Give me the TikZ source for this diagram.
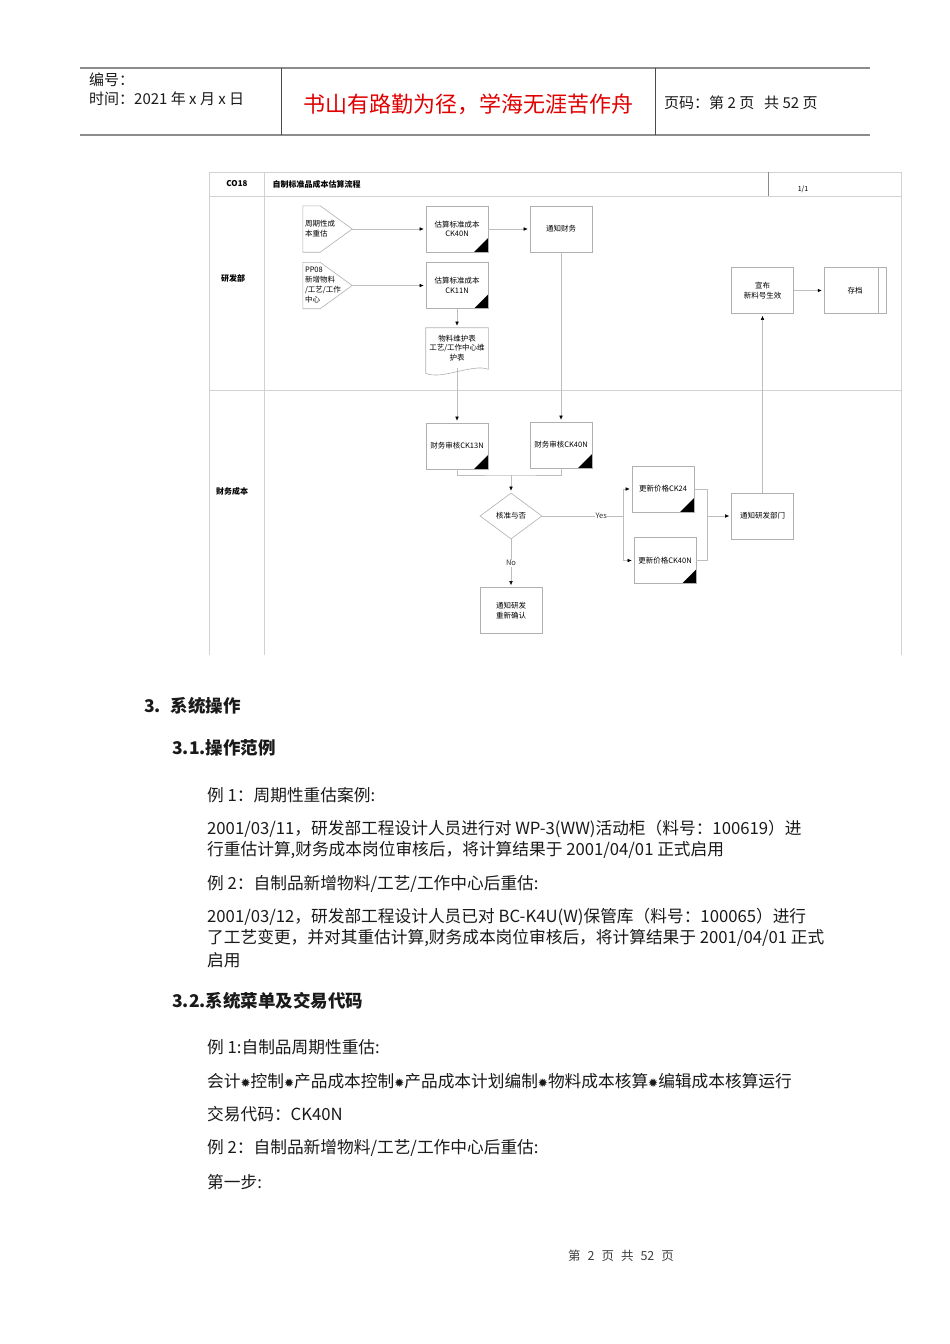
\documentclass[tikz,border=0pt]{standalone}
\usepackage{fontspec}
\setmainfont{Noto Sans CJK SC}
\newfontfamily\symfont{DejaVu Sans}
\usetikzlibrary{positioning,calc,shapes.geometric,arrows.meta}
\definecolor{FrameGray}{HTML}{D2D2D2}
\definecolor{BoxGray}{HTML}{B0B0B0}
\definecolor{LineGray}{HTML}{BDBDBD}
\definecolor{RuleGray}{HTML}{8C8C8C}
\definecolor{Motto}{HTML}{E10000}
\definecolor{TextDark}{HTML}{1A1A1A}
\newcommand{\sepmark}{{\symfont\fontsize{12}{12}\selectfont ✹}}

\begin{document}
\begin{tikzpicture}[
    x=1pt, y=-1pt,
    box/.style={rectangle, draw=BoxGray, fill=white, minimum width=62pt, minimum height=46pt, inner sep=1pt, align=center, font=\fontsize{7.5}{9.5}\selectfont, line width=0.6pt},
    flagbox/.style={box, path picture={\fill[black] (path picture bounding box.south east) -- ++(-14pt,0pt) -- ++(14pt,14pt) -- cycle;}},
    shelfbox/.style={box, path picture={\draw[BoxGray, line width=0.6pt] ([xshift=-8pt]path picture bounding box.north east) -- ([xshift=-8pt]path picture bounding box.south east);}},
    entry/.style={rectangle, minimum width=49pt, minimum height=46pt, text width=45pt, inner sep=2pt, align=left, font=\fontsize{7.5}{10}\selectfont},
    decision/.style={diamond, draw=BoxGray, fill=white, minimum width=62pt, minimum height=46pt, inner sep=0pt, aspect=1.35, font=\fontsize{7.5}{9}\selectfont, line width=0.6pt},
    link/.style={LineGray, line width=0.5pt},
    arrow/.style={link, -{Latex[length=4pt,width=3.5pt,color=black]}, shorten >=2pt},
    lbl/.style={fill=white, inner sep=0.5pt, text=black!80, font=\fontsize{7.5}{7.5}\selectfont},
    lane/.style={font=\fontsize{8}{8}\selectfont\bfseries},
    txt/.style={anchor=west, inner sep=0pt, font=\fontsize{16.7}{16.7}\selectfont, text=TextDark},
    head/.style={anchor=west, inner sep=0pt, font=\fontsize{17.5}{17.5}\selectfont\bfseries, text=TextDark}
  ]
    \fill[white] (0,0) rectangle (950,1344);

    % Page header
    \draw[RuleGray, line width=1.4pt] (80,68) -- (870,68);
    \draw[RuleGray, line width=1.4pt] (80,135) -- (870,135);
    \draw[black!70, line width=0.8pt] (281,68) -- (281,135);
    \draw[black!70, line width=0.8pt] (655,68) -- (655,135);
    \node (docno) [txt, font=\fontsize{15}{15}\selectfont] at (89,80) {编号：};
    \node (docdate) [txt, font=\fontsize{15}{15}\selectfont] at (89,99) {时间：2021 年 x 月 x 日};
    \node (motto) [inner sep=0pt, font=\fontsize{22}{22}\selectfont, text=Motto] at (468,104) {书山有路勤为径，学海无涯苦作舟};
    \node (pageno) [txt, font=\fontsize{15}{15}\selectfont] at (664,103) {页码：第 2 页\hspace{10pt}共 52 页};

    % Flowchart frame
    \draw[FrameGray, line width=0.7pt] (209,172) -- (901,172);
    \draw[FrameGray, line width=0.7pt] (209,196) -- (901,196);
    \draw[FrameGray, line width=0.7pt] (209,390) -- (901,390);
    \draw[FrameGray, line width=0.7pt] (209,172) -- (209,655);
    \draw[FrameGray, line width=0.7pt] (264,172) -- (264,655);
    \draw[FrameGray, line width=0.7pt] (901,172) -- (901,655);
    \draw[black!45, line width=0.7pt] (768,172) -- (768,196);
    \node (code) [lane] at (237,184) {CO18};
    \node (title) [lane, anchor=west] at (269,184) {自制标准品成本估算流程};
    \node (sheet) [font=\fontsize{7}{7}\selectfont] at (803,189) {1/1};
    \node (rdLane) [lane] at (233,278) {研发部};
    \node (finLane) [lane] at (232,491) {财务成本};

    % R&D lane
    \node (perRev) [entry] at (327.5,229) {周期性成\\本重估};
    \node (newMat) [entry] at (327.5,285.5) {PP08\\新增物料\\/工艺/工作\\中心};
    \foreach \n in {perRev,newMat}
      \draw[BoxGray, line width=0.6pt] (\n.north west) -- ([xshift=-32pt]\n.north east) -- (\n.east)
        -- ([xshift=-32pt]\n.south east) -- (\n.south west) -- cycle;
    \node (est40) [flagbox] at (457,229) {估算标准成本\\CK40N};
    \node (est11) [flagbox] at (457,285.5) {估算标准成本\\CK11N};
    \node (notifyFin) [box] at (561,229) {通知财务};
    \node (matDoc) [box, draw=none, fill=none, minimum height=40pt] at (457,348) {物料维护表\\工艺/工作中心维\\护表};
    \draw[BoxGray, line width=0.6pt] ([yshift=-5pt]matDoc.south west) -- (matDoc.north west) -- (matDoc.north east)
      -- ([yshift=-1pt]matDoc.south east) .. controls +(-16pt,6pt) and +(16pt,-7pt) .. ([yshift=-5pt]matDoc.south west);
    \node (announce) [box] at (762.5,290.5) {宣布\\新料号生效};
    \node (archive) [shelfbox, right=30pt of announce] {存档};

    % Finance lane
    \node (chk13) [flagbox] at (457,446) {财务审核CK13N};
    \node (chk40) [flagbox] at (561,445) {财务审核CK40N};
    \node (decide) [decision] at (511,516) {核准与否};
    \node (upd24) [flagbox] at (663,489) {更新价格CK24};
    \node (upd40) [flagbox] at (665,560.5) {更新价格CK40N};
    \node (notifyRD) [box] at (762.5,516) {通知研发部门};
    \node (recheck) [box] at (511,610.5) {通知研发\\重新确认};
    \coordinate (merge) at (511,475);
    \coordinate (yesJoin) at (623,516);
    \coordinate (rdJoin) at (707,516);

    % Connections
    \draw [arrow] (perRev.east) -- (est40.west);
    \draw [arrow] (est40.east) -- (notifyFin.west);
    \draw [arrow] (newMat.east) -- (est11.west);
    \draw [arrow] (est11.south) -- (matDoc.north);
    \draw [arrow] (matDoc.south) -- (chk13.north);
    \draw [arrow] (notifyFin.south) -- (chk40.north);
    \draw [link] (chk13.south) |- (merge) -| (chk40.south);
    \draw [arrow] (merge) -- (decide.north);
    \draw [link] (decide.east) -- node[lbl, pos=0.73] {Yes} (yesJoin);
    \draw [arrow] (yesJoin) |- (upd24.west);
    \draw [arrow] (yesJoin) |- (upd40.west);
    \draw [link] (upd24.east) -| (rdJoin);
    \draw [link] (upd40.east) -| (rdJoin);
    \draw [arrow] (rdJoin) -- (notifyRD.west);
    \draw [arrow] (notifyRD.north) -- (announce.south);
    \draw [arrow] (announce.east) -- (archive.west);
    \draw [arrow] (decide.south) -- node[lbl] {No} (recheck.north);

    % Section 3
    \node (sec3) [head] at (144,706) {3.\hspace{10pt}系统操作};
    \node (sec31) [head] at (172,748) {3.1.操作范例};
    \node (ex1) [txt] at (207,795) {例 1：周期性重估案例:};
    \node (ex1a) [txt] at (207,829) {2001/03/11，研发部工程设计人员进行对 WP-3(WW)活动柜（料号：100619）进};
    \node (ex1b) [txt] at (207,850) {行重估计算,财务成本岗位审核后，将计算结果于 2001/04/01 正式启用};
    \node (ex2) [txt] at (207,884) {例 2：自制品新增物料/工艺/工作中心后重估:};
    \node (ex2a) [txt] at (207,917) {2001/03/12，研发部工程设计人员已对 BC-K4U(W)保管库（料号：100065）进行};
    \node (ex2b) [txt] at (207,938) {了工艺变更，并对其重估计算,财务成本岗位审核后，将计算结果于 2001/04/01 正式};
    \node (ex2c) [txt] at (207,960) {启用};
    \node (sec32) [head] at (172,1001) {3.2.系统菜单及交易代码};
    \node (menu1) [txt] at (207,1047) {例 1:自制品周期性重估:};
    \node (menuPath) [txt] at (207,1081) {会计\sepmark 控制\sepmark 产品成本控制\sepmark 产品成本计划编制\sepmark 物料成本核算\sepmark 编辑成本核算运行};
    \node (tcode) [txt] at (207,1114) {交易代码：CK40N};
    \node (menu2) [txt] at (207,1148) {例 2：自制品新增物料/工艺/工作中心后重估:};
    \node (step1) [txt] at (207,1182) {第一步:};

    % Footer
    \node (footer) [inner sep=0pt, font=\fontsize{12.5}{12.5}\selectfont, text=black!75] at (621,1256) {第\hspace{7pt}2\hspace{7pt}页\hspace{7pt}共\hspace{7pt}52\hspace{7pt}页};
  \end{tikzpicture}
\end{document}
